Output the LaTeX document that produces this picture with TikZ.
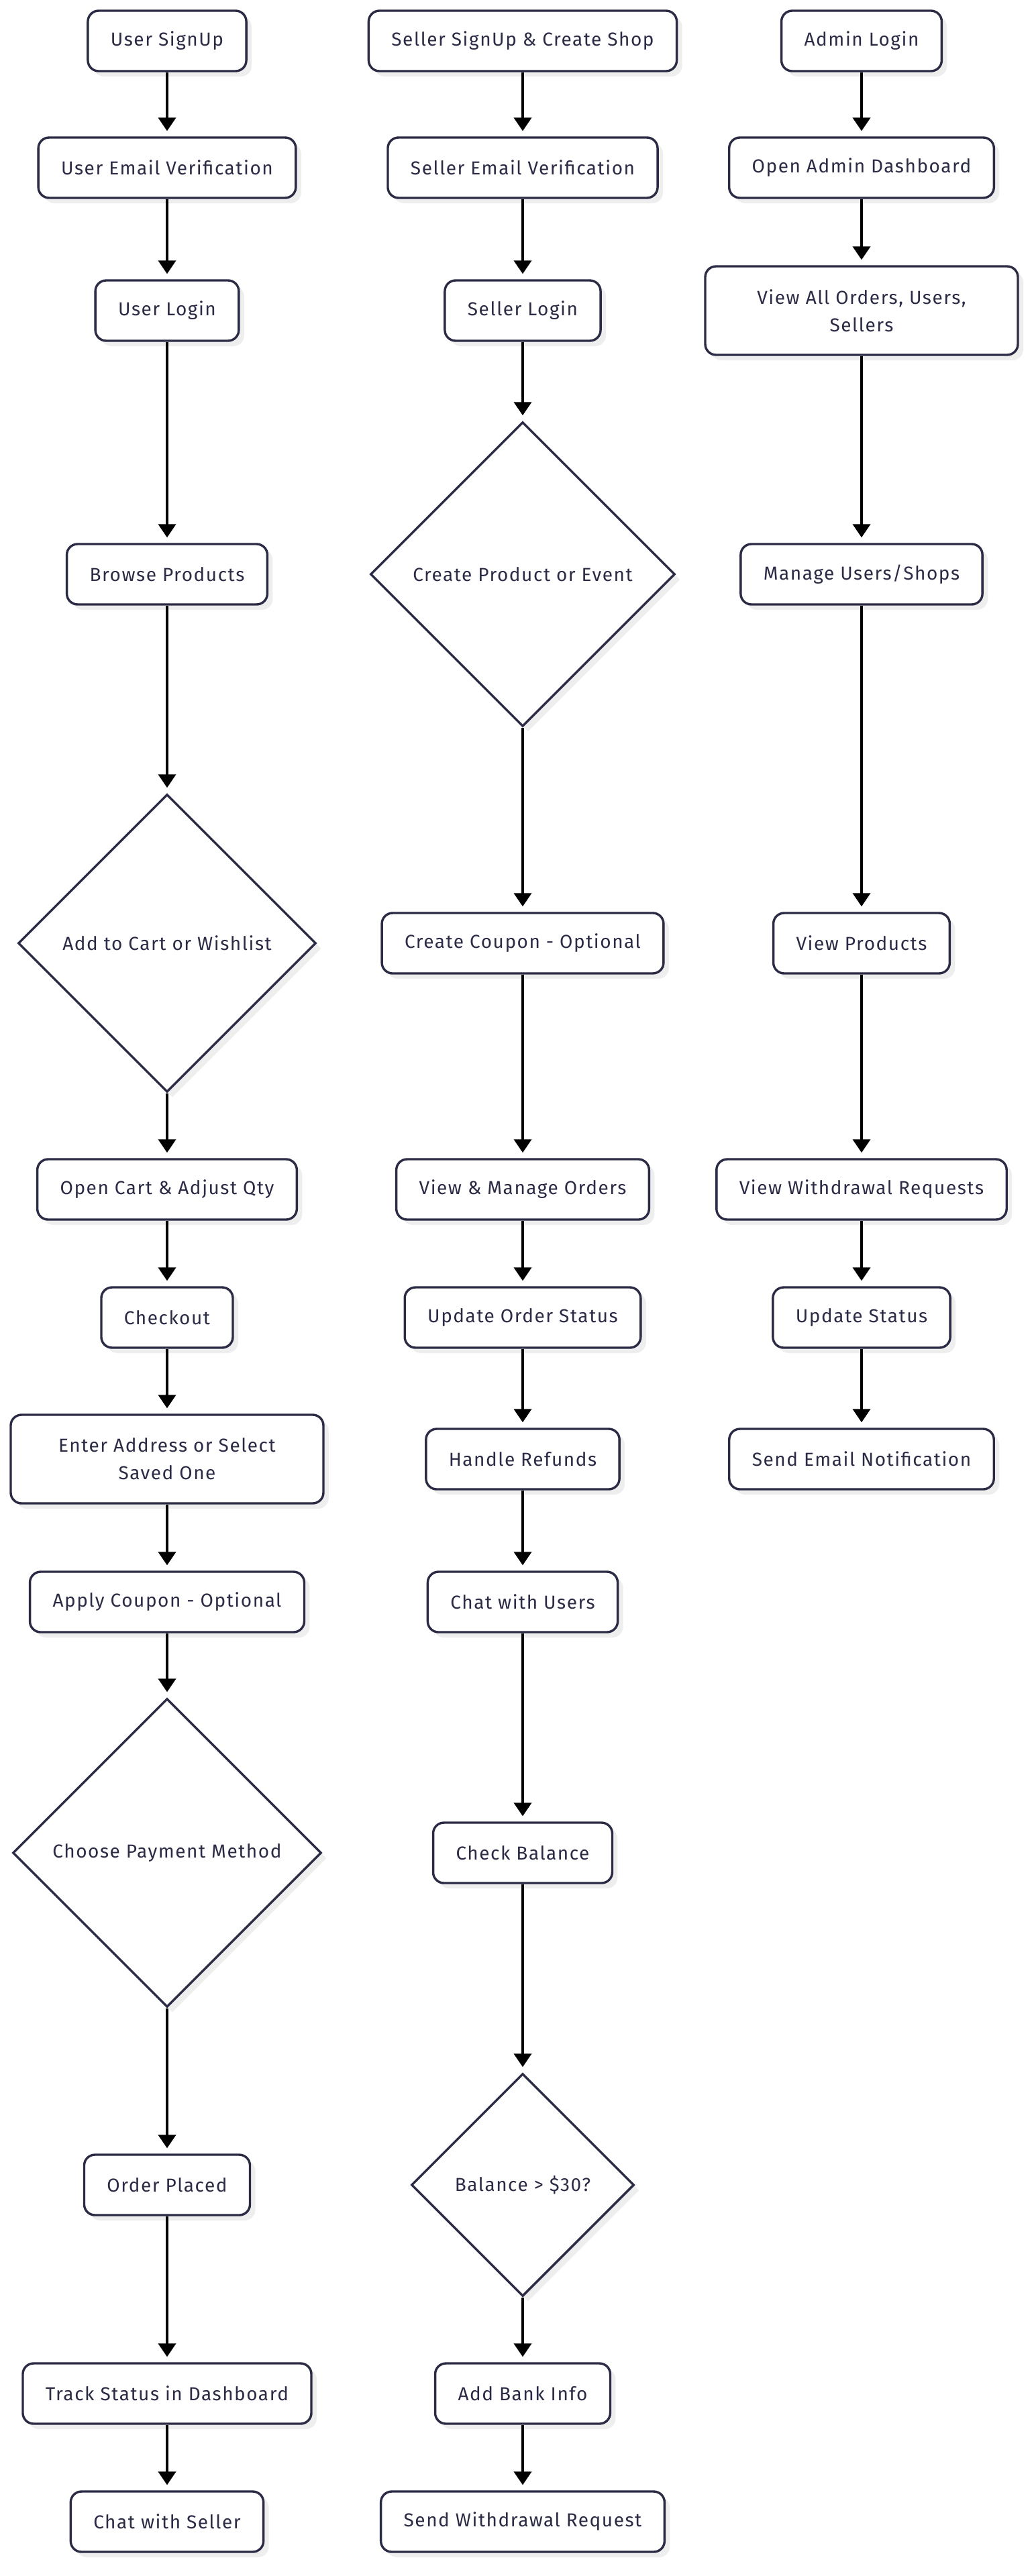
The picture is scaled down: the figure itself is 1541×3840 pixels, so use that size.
\documentclass[tikz,border=0pt]{standalone}
\usepackage{fontspec}
\setmainfont{Fira Sans}[LetterSpace=5.5]
\usetikzlibrary{shapes.geometric,shadows,arrows.meta}
\definecolor{ink}{HTML}{2B2B45}
\definecolor{shade}{HTML}{EEEEEE}

\tikzset{
  stepbox/.style={draw=ink, line width=1.7pt, rounded corners=8pt, fill=white, text=ink,
    inner xsep=17pt, minimum height=45pt, align=center,
    font=\fontsize{14}{20.5}\selectfont,
    drop shadow={shadow xshift=4pt, shadow yshift=-4pt, fill=shade, opacity=1}},
  wrapbox/.style={stepbox, minimum width=233pt, minimum height=66pt},
  choice/.style={stepbox, diamond, rounded corners=0pt, inner sep=0pt, aspect=1}
,
  flow/.style={line width=2pt, -{Triangle[width=13pt,length=10pt]}, shorten >=4pt}
}

\begin{document}
\begin{tikzpicture}[x=0.5pt, y=-0.5pt]
  \useasboundingbox (0,0) rectangle (1541,3840);

  % User column (x = 249)
  \node[stepbox] (usignup)    at (249,61)   {User SignUp};
  \node[stepbox] (uverify)    at (249,250)  {User Email Verification};
  \node[stepbox] (ulogin)     at (249,463)  {User Login};
  \node[stepbox] (browse)     at (249,856)  {Browse Products};
  \node[choice, minimum size=222pt] (addcart) at (249,1406) {Add to Cart or Wishlist};
  \node[stepbox] (opencart)   at (249,1773) {Open Cart \& Adjust Qty};
  \node[stepbox] (checkout)   at (249,1964) {Checkout};
  \node[wrapbox] (address)    at (249,2175) {Enter Address or Select\\Saved One};
  \node[stepbox] (ucoupon)    at (249,2388) {Apply Coupon - Optional};
  \node[choice, minimum size=230pt] (payment) at (249,2762) {Choose Payment Method};
  \node[stepbox] (placed)     at (249,3257) {Order Placed};
  \node[stepbox] (track)      at (249,3568) {Track Status in Dashboard};
  \node[stepbox] (chatseller) at (249,3759) {Chat with Seller};

  % Seller column (x = 779)
  \node[stepbox] (ssignup)    at (779,61)   {Seller SignUp \& Create Shop};
  \node[stepbox] (sverify)    at (779,250)  {Seller Email Verification};
  \node[stepbox] (slogin)     at (779,463)  {Seller Login};
  \node[choice, minimum size=227pt] (create) at (779,856) {Create Product or Event};
  \node[stepbox] (scoupon)    at (779,1406) {Create Coupon - Optional};
  \node[stepbox] (orders)     at (779,1773) {View \& Manage Orders};
  \node[stepbox] (ostatus)    at (779,1964) {Update Order Status};
  \node[stepbox] (refunds)    at (779,2175) {Handle Refunds};
  \node[stepbox] (chatusers)  at (779,2388) {Chat with Users};
  \node[stepbox] (balance)    at (779,2762) {Check Balance};
  \node[choice, minimum size=166pt] (enough) at (779,3257) {Balance > \$30?};
  \node[stepbox] (bank)       at (779,3568) {Add Bank Info};
  \node[stepbox] (withdraw)   at (779,3759) {Send Withdrawal Request};

  % Admin column (x = 1284)
  \node[stepbox] (alogin)     at (1284,61)   {Admin Login};
  \node[stepbox] (adash)      at (1284,250)  {Open Admin Dashboard};
  \node[wrapbox] (viewall)    at (1284,463)  {View All Orders, Users,\\Sellers};
  \node[stepbox] (manage)     at (1284,856)  {Manage Users/Shops};
  \node[stepbox] (products)   at (1284,1406) {View Products};
  \node[stepbox] (requests)   at (1284,1773) {View Withdrawal Requests};
  \node[stepbox] (astatus)    at (1284,1964) {Update Status};
  \node[stepbox] (notify)     at (1284,2175) {Send Email Notification};

  % Flow arrows
  \foreach \a/\b in {usignup/uverify, uverify/ulogin, ulogin/browse, browse/addcart,
      addcart/opencart, opencart/checkout, checkout/address, address/ucoupon,
      ucoupon/payment, payment/placed, placed/track, track/chatseller,
      ssignup/sverify, sverify/slogin, slogin/create, create/scoupon,
      scoupon/orders, orders/ostatus, ostatus/refunds, refunds/chatusers,
      chatusers/balance, balance/enough, enough/bank, bank/withdraw,
      alogin/adash, adash/viewall, viewall/manage, manage/products,
      products/requests, requests/astatus, astatus/notify}
    \draw[flow] (\a) -- (\b);
\end{tikzpicture}
\end{document}
